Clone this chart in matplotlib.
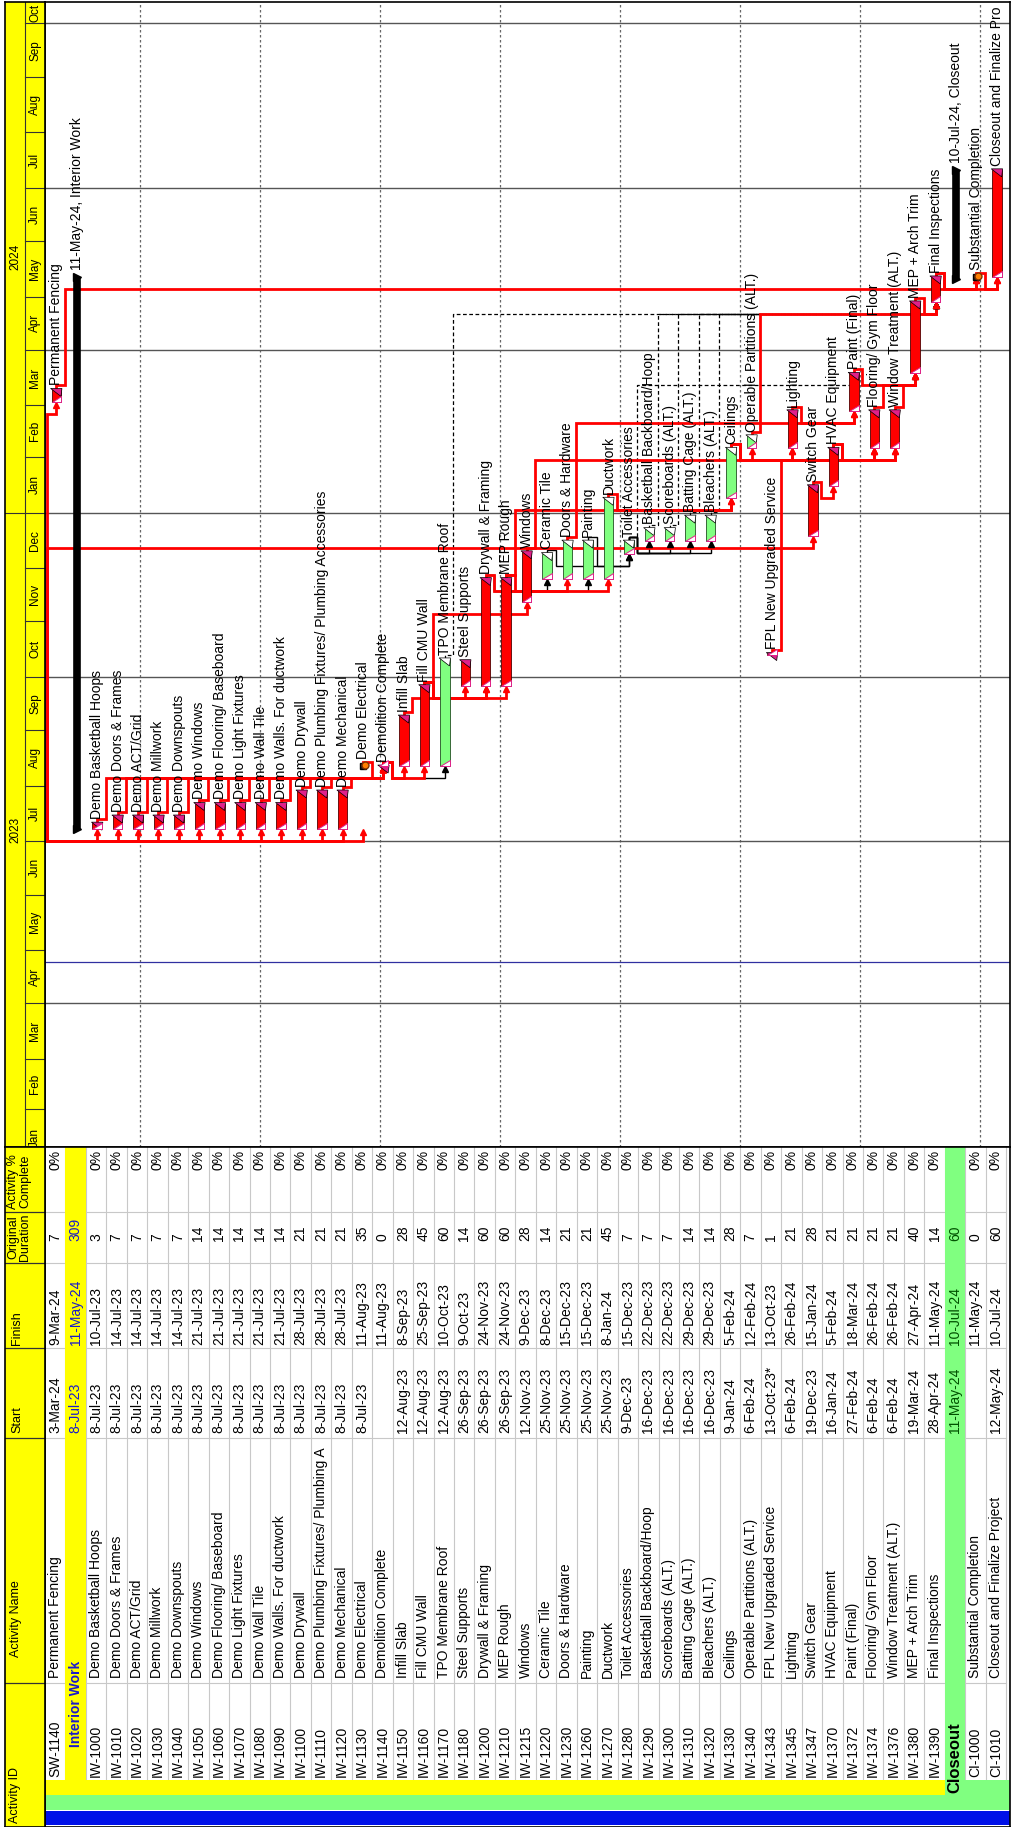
import matplotlib
matplotlib.use("Agg")
import matplotlib.pyplot as plt
import matplotlib.dates as mdates
from matplotlib import font_manager
from matplotlib.patches import Polygon, Rectangle
from datetime import datetime

W, H, DPI = 1013, 1827, 100

# narrow face if there is one, it is closer to the printed schedule
fams = {f.name for f in font_manager.fontManager.ttflist}
if "Liberation Sans Narrow" in fams:
    FONT, SC = "Liberation Sans Narrow", 1.2
else:
    FONT, SC = "Liberation Sans", 1.0
plt.rcParams['font.family'] = [FONT, 'DejaVu Sans']
FS = 10 * SC

# ---------------- data ----------------
ids = ["SW-1140", "", "IW-1000", "IW-1010", "IW-1020", "IW-1030", "IW-1040", "IW-1050",
       "IW-1060", "IW-1070", "IW-1080", "IW-1090", "IW-1100", "IW-1110", "IW-1120", "IW-1130",
       "IW-1140", "IW-1150", "IW-1160", "IW-1170", "IW-1180", "IW-1200", "IW-1210", "IW-1215",
       "IW-1220", "IW-1230", "IW-1260", "IW-1270", "IW-1280", "IW-1290", "IW-1300", "IW-1310",
       "IW-1320", "IW-1330", "IW-1340", "IW-1343", "IW-1345", "IW-1347", "IW-1370", "IW-1372",
       "IW-1374", "IW-1376", "IW-1380", "IW-1390", "", "CI-1000", "CI-1010"]
names = ["Permanent Fencing", "Interior Work", "Demo Basketball Hoops", "Demo Doors & Frames",
         "Demo ACT/Grid", "Demo Millwork", "Demo Downspouts", "Demo Windows",
         "Demo Flooring/ Baseboard", "Demo Light Fixtures", "Demo Wall Tile",
         "Demo Walls. For ductwork", "Demo Drywall", "Demo Plumbing Fixtures/ Plumbing A",
         "Demo Mechanical", "Demo Electrical", "Demolition Complete", "Infill Slab", "Fill CMU Wall",
         "TPO Membrane Roof", "Steel Supports", "Drywall & Framing", "MEP Rough", "Windows",
         "Ceramic Tile", "Doors & Hardware", "Painting", "Ductwork", "Toilet Accessories",
         "Basketball Backboard/Hoop", "Scoreboards (ALT.)", "Batting Cage (ALT.)", "Bleachers (ALT.)",
         "Ceilings", "Operable Partitions (ALT.)", "FPL New Upgraded Service", "Lighting",
         "Switch Gear", "HVAC Equipment", "Paint (Final)", "Flooring/ Gym Floor",
         "Window Treatment (ALT.)", "MEP + Arch Trim", "Final Inspections", "Closeout",
         "Substantial Completion", "Closeout and Finalize Project"]
# bar labels where they differ from the name column
bar_labels = {13: "Demo Plumbing Fixtures/ Plumbing Accessories", 46: "Closeout and Finalize Pro"}
starts = ["3-Mar-24", "8-Jul-23"] + ["8-Jul-23"] * 14 + [
    "", "12-Aug-23", "12-Aug-23", "12-Aug-23", "26-Sep-23", "26-Sep-23", "26-Sep-23", "12-Nov-23",
    "25-Nov-23", "25-Nov-23", "25-Nov-23", "25-Nov-23", "9-Dec-23", "16-Dec-23", "16-Dec-23",
    "16-Dec-23", "16-Dec-23", "9-Jan-24", "6-Feb-24", "13-Oct-23*", "6-Feb-24", "19-Dec-23",
    "16-Jan-24", "27-Feb-24", "6-Feb-24", "6-Feb-24", "19-Mar-24", "28-Apr-24", "11-May-24", "",
    "12-May-24"]
finishes = ["9-Mar-24", "11-May-24", "10-Jul-23", "14-Jul-23", "14-Jul-23", "14-Jul-23", "14-Jul-23",
            "21-Jul-23", "21-Jul-23", "21-Jul-23", "21-Jul-23", "21-Jul-23", "28-Jul-23", "28-Jul-23",
            "28-Jul-23", "11-Aug-23", "11-Aug-23", "8-Sep-23", "25-Sep-23", "10-Oct-23", "9-Oct-23",
            "24-Nov-23", "24-Nov-23", "9-Dec-23", "8-Dec-23", "15-Dec-23", "15-Dec-23", "8-Jan-24",
            "15-Dec-23", "22-Dec-23", "22-Dec-23", "29-Dec-23", "29-Dec-23", "5-Feb-24", "12-Feb-24",
            "13-Oct-23", "26-Feb-24", "15-Jan-24", "5-Feb-24", "18-Mar-24", "26-Feb-24", "26-Feb-24",
            "27-Apr-24", "11-May-24", "10-Jul-24", "11-May-24", "10-Jul-24"]
durations = [7, 309, 3, 7, 7, 7, 7, 14, 14, 14, 14, 14, 21, 21, 21, 35, 0, 28, 45, 60, 14, 60, 60,
             28, 14, 21, 21, 45, 7, 7, 7, 14, 14, 28, 7, 1, 21, 28, 21, 21, 21, 21, 40, 14, 60, 0, 60]
complete = ["0%", ""] + ["0%"] * 42 + ["", "0%", "0%"]
# bar kind: c = critical, g = non critical, m = milestone, s = wbs summary
kinds = list("cscccccccccccccmcccgcccccgcgcggggggcccccccccsmc")
kinds[24] = "g"; kinds[26] = "g"; kinds[28] = "g"

demo = ids[2:16]
links = ([(None, d, "r") for d in demo] + [(d, "IW-1140", "r") for d in demo] + [
    ("IW-1140", "IW-1150", "r"), ("IW-1140", "IW-1160", "r"), ("IW-1140", "IW-1170", "k"),
    ("IW-1150", "IW-1200", "r"), ("IW-1160", "IW-1180", "r"), ("IW-1160", "IW-1200", "r"),
    ("IW-1160", "IW-1210", "r"), ("IW-1160", "IW-1215", "r"),
    ("IW-1200", "IW-1220", "k"), ("IW-1200", "IW-1230", "r"), ("IW-1200", "IW-1260", "k"),
    ("IW-1210", "IW-1270", "r"), ("IW-1215", "IW-1374", "r"), ("IW-1220", "IW-1280", "k"),
    ("IW-1260", "IW-1280", "k"), ("IW-1230", "IW-1372", "r"), ("IW-1270", "IW-1330", "r"),
    ("IW-1210", "IW-1330", "r"),
    ("IW-1280", "IW-1290", "k"), ("IW-1280", "IW-1300", "k"), ("IW-1280", "IW-1310", "k"),
    ("IW-1280", "IW-1320", "k"),
    ("IW-1170", "IW-1390", "d"), ("IW-1290", "IW-1390", "d"), ("IW-1300", "IW-1390", "d"),
    ("IW-1310", "IW-1390", "d"), ("IW-1320", "IW-1390", "d"), ("IW-1280", "IW-1380", "d"),
    ("IW-1330", "IW-1340", "r"), ("IW-1330", "IW-1345", "r"), ("IW-1330", "IW-1374", "r"),
    ("IW-1330", "IW-1376", "r"), ("IW-1343", "IW-1345", "r"), (None, "IW-1347", "r"),
    ("IW-1347", "IW-1370", "r"), ("IW-1370", "IW-1374", "r"), ("IW-1370", "IW-1376", "r"),
    ("IW-1340", "IW-1390", "r"), ("IW-1345", "IW-1372", "r"), ("IW-1372", "IW-1380", "r"),
    ("IW-1374", "IW-1380", "r"), ("IW-1376", "IW-1380", "r"), ("IW-1380", "IW-1390", "r"),
    ("IW-1390", "CI-1000", "r"), ("IW-1390", "CI-1010", "r"), ("CI-1000", "CI-1010", "r"),
    (None, "SW-1140", "r"), ("SW-1140", "CI-1000", "r")])

months = ["Jan", "Feb", "Mar", "Apr", "May", "Jun", "Jul", "Aug", "Sep", "Oct", "Nov", "Dec"]

# ---------------- layout ----------------
ROW_PX, DAY_PX = 20.45, 1.785
GX0, GX1, GY0, GY1 = 45, 1010, 2, 1147
TY1 = 1827
NROW = len(ids)
XMAX = (GX1 - GX0) / ROW_PX
ref = mdates.date2num(datetime(2023, 7, 1))
T0 = ref - (GY1 - 841) / DAY_PX
T1 = ref + (841 - GY0) / DAY_PX
RED, MAG, GRN = "#FF0000", "#E0208A", "#80FF80"


def dnum(s):
    return mdates.date2num(datetime.strptime(s.rstrip("*"), "%d-%b-%y"))


def rx(p):
    return p / ROW_PX


def ty(p):
    return p / DAY_PX


fig = plt.figure(figsize=(W / DPI, H / DPI), dpi=DPI)


def px_axes(x0, y0, x1, y1):
    a = fig.add_axes([x0 / W, 1 - y1 / H, (x1 - x0) / W, (y1 - y0) / H])
    a.set_xticks([]); a.set_yticks([])
    return a


t_start, t_end = [], []
for k in range(NROW):
    fin = dnum(finishes[k]) + 1
    st = dnum(starts[k]) if starts[k] else fin
    t_start.append(st); t_end.append(fin)
row_of = {i: k for k, i in enumerate(ids) if i}


def bar_x(k):
    return k + 0.55


# ---------------- gantt ----------------
ax = px_axes(GX0, GY0, GX1, GY1)
ax.set_xlim(0, XMAX)
ax.set_ylim(T0, T1)
for s in ax.spines.values():
    s.set_linewidth(1.2)

for sx in [4.65 + 5.87 * i for i in range(8)]:
    ax.axvline(sx, color="#666666", lw=0.9, ls=(0, (2, 2)), zorder=1)
for y, m in [(2023, 4), (2023, 7), (2023, 10), (2024, 1), (2024, 4), (2024, 7), (2024, 10)]:
    ax.axhline(mdates.date2num(datetime(y, m, 1)), color="#555555", lw=1.0, zorder=1)
ax.axhline(mdates.date2num(datetime(2023, 4, 24)), color="#3030A0", lw=0.9, zorder=1)

A, B = ty(4), ty(12)
ext_low = min(t_start[row_of[s]] for p, s, st in links if p is None) - B
for style in ("d", "k", "r"):
    for p, s, st in links:
        if st != style:
            continue
        ks = row_of[s]
        xs, ys = bar_x(ks), t_start[ks]
        if p is None:
            # predecessors above the visible rows come in along the left edge
            px, py = [rx(2), rx(2)], [ext_low, ys - B]
        else:
            kp = row_of[p]
            xr = kp + 0.97
            top = t_end[kp]
            px = [bar_x(kp), bar_x(kp), xr, xr]
            py = [top, top + A, top + A, ys - B]
        px += [xs, xs]
        py += [ys - B, ys - ty(3)]
        if style == "r":
            kw = dict(color=RED, lw=2.0, zorder=2)
        elif style == "k":
            kw = dict(color="black", lw=1.0, zorder=2)
        else:
            kw = dict(color="black", lw=0.9, ls=(0, (3, 2)), zorder=2)
        ax.plot(px, py, solid_joinstyle="miter", **kw)
        ax.plot(xs, ys - ty(3), marker="^", ms=5, color=kw["color"], lw=0, zorder=3)

BW = 0.46
for k, kind in enumerate(kinds):
    x = bar_x(k)
    lab = bar_labels.get(k, names[k])
    if kind in "cg":
        col = RED if kind == "c" else GRN
        ax.bar(x, t_end[k] - t_start[k], bottom=t_start[k], width=BW, color=col,
               edgecolor="#500000" if kind == "c" else "#205020", linewidth=0.6, zorder=4)
        xl, xr = x - BW / 2, x + BW / 2
        top, bot = t_end[k], t_start[k]
        ax.add_patch(Polygon([(xl - rx(1), top + ty(1)), (xr + rx(1), top + ty(1)), (xr, top - ty(7))],
                             closed=True, fc=MAG if kind == "c" else "white", ec="black", lw=0.5, zorder=5))
        ax.add_patch(Polygon([(xl, bot), (xr, bot), (xr, bot + ty(6))],
                             closed=True, fc="white", ec=MAG, lw=0.7, zorder=5))
        ytxt = top
    elif kind == "m":
        ax.plot(x, t_end[k], marker="s", ms=5, mfc="#202020", mec="black", zorder=5)
        ax.plot(x + rx(2), t_end[k] + ty(1), marker="o", ms=5, mfc="#FF7F00", mec="#803000", zorder=6)
        ytxt = t_end[k] + ty(3)
    else:
        ax.plot([x, x], [t_start[k], t_end[k]], color="black", lw=5.5, solid_capstyle="butt", zorder=4)
        ax.plot([x, x], [t_start[k], t_end[k]], color="black", lw=0, marker=">", ms=6, zorder=4)
        lab = finishes[k] + ", " + names[k]
        ytxt = t_end[k] + ty(3)
    ax.annotate(lab, (x, ytxt), xytext=(0, 3), textcoords="offset points", rotation=90,
                ha="center", va="bottom", fontsize=FS, clip_on=True, zorder=7)

# ---------------- timescale header ----------------
hx = px_axes(5, GY0, GX0, GY1)
hx.set_xlim(5, GX0)
hx.set_ylim(T0, T1)
hx.set_facecolor("#FFFF00")
for s in hx.spines.values():
    s.set_linewidth(1.2)
hx.axvline(25, color="#333333", lw=0.8)
jan24 = mdates.date2num(datetime(2024, 1, 1))
hx.plot([5, 25], [jan24, jan24], color="#333333", lw=0.8)
hx.text(15, (T0 + jan24) / 2, "2023", rotation=90, ha="center", va="center", fontsize=8.5 * SC)
hx.text(15, (jan24 + T1) / 2, "2024", rotation=90, ha="center", va="center", fontsize=8.5 * SC)
for i in range(22):
    y, m = 2023 + i // 12, i % 12 + 1
    m0 = mdates.date2num(datetime(y, m, 1))
    m1 = mdates.date2num(datetime(y + (m == 12), m % 12 + 1, 1))
    hx.plot([25, 45], [m0, m0], color="#333333", lw=0.8)
    hx.text(35, (max(m0, T0) + min(m1, T1)) / 2 if i else m0 + 15, months[m - 1], rotation=90,
            ha="center", va="center", fontsize=8.5 * SC, clip_on=True)

# ---------------- table ----------------
tb = px_axes(GX0, GY1, GX1, TY1)
tb.set_xlim(0, XMAX)
tb.set_ylim(TY1, GY1)
for s in tb.spines.values():
    s.set_linewidth(1.2)
cols = [1212, 1263, 1348, 1438, 1683]
for c in cols:
    tb.plot([0, NROW], [c, c], color="#C8C8C8", lw=0.8, zorder=1)
for k in range(1, NROW + 1):
    tb.plot([k, k], [GY1, 1780], color="#C8C8C8", lw=0.8, zorder=1)
tb.add_patch(Rectangle((1, GY1), 1, 1780 - GY1, fc="#FFFF00", ec="none", zorder=2))
tb.add_patch(Rectangle((44, GY1), 1, 1810 - GY1, fc=GRN, ec="none", zorder=2))
tb.add_patch(Rectangle((0, 1780), 44, 15, fc="#FFFF00", ec="none", zorder=2))
tb.add_patch(Rectangle((44, 1780), XMAX - 44, 15, fc=GRN, ec="none", zorder=2))
tb.add_patch(Rectangle((0, 1795), XMAX, 15, fc=GRN, ec="none", zorder=2))
tb.add_patch(Rectangle((0, 1811), XMAX, 14, fc="#0010E8", ec="none", zorder=2))

for k in range(NROW):
    x = k + 0.5
    tk = dict(rotation=90, ha="center", fontsize=FS, zorder=5)
    if kinds[k] == "s":
        c = "#1A1ACC" if k == 1 else "#005000"
        if k == 1:
            tb.text(x, 1747, names[k], va="bottom", color=c, fontweight="bold", **tk)
        else:
            tb.text(x, 1793, names[k], va="bottom", color="black", fontweight="bold",
                    **dict(tk, fontsize=12 * SC))
        tb.text(x, 1433, starts[k], va="bottom", color=c, **tk)
        tb.text(x, 1345, finishes[k], va="bottom", color=c, **tk)
        tb.text(x, 1241, str(durations[k]), va="bottom", color=c, **tk)
        continue
    tb.text(x, 1777, ids[k], va="bottom", **tk)
    tb.text(x, 1678, names[k], va="bottom", **tk)
    tb.text(x, 1433, starts[k], va="bottom", **tk)
    tb.text(x, 1345, finishes[k], va="bottom", **tk)
    tb.text(x, 1241, str(durations[k]), va="bottom", **tk)
    tb.text(x, 1150, complete[k], va="top", **tk)

th = px_axes(5, GY1, GX0, TY1)
th.set_xlim(5, GX0)
th.set_ylim(TY1, GY1)
th.set_facecolor("#FFFF00")
for s in th.spines.values():
    s.set_linewidth(1.2)
for c in cols:
    th.plot([5, GX0], [c, c], color="#333333", lw=0.9)
hk = dict(rotation=90, fontsize=9 * SC, ha="center", va="bottom", linespacing=1.0)
th.text(15, 1823, "Activity ID", **hk)
th.text(16, 1657, "Activity Name", **hk)
th.text(17, 1433, "Start", **hk)
th.text(17, 1345, "Finish", **hk)
th.text(19, 1261, "Original\nDuration", **hk)
th.text(19, 1209, "Activity %\nComplete", **hk)

fig.savefig("out.png", dpi=DPI)
